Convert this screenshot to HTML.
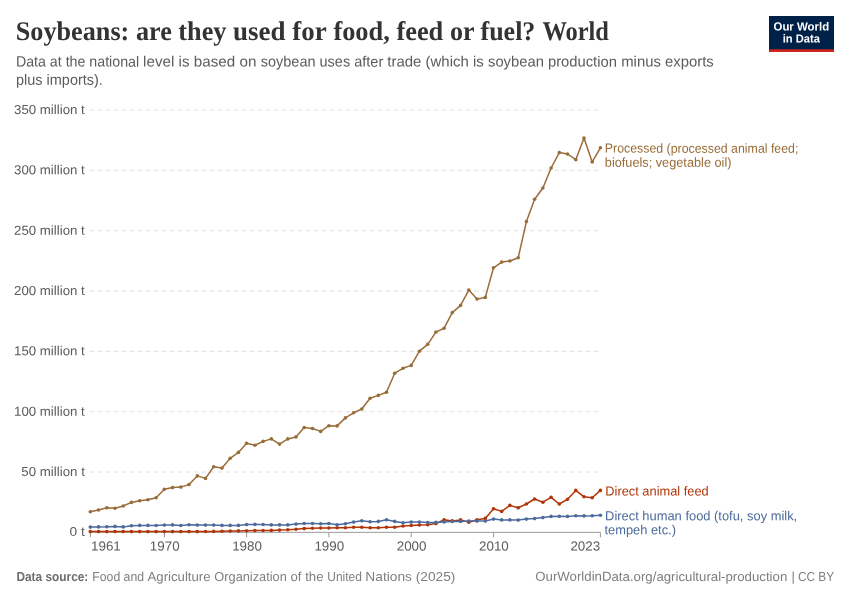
<!DOCTYPE html>
<html><head><meta charset="utf-8"><title>Soybeans: are they used for food, feed or fuel?</title>
<style>
html,body{margin:0;padding:0;background:#fff;}
body{width:850px;height:600px;position:relative;overflow:hidden;font-family:"Liberation Sans",sans-serif;}
svg{position:absolute;left:0;top:0;}
.title{font:bold 27px "Liberation Serif",serif;}.sub{font:15px "Liberation Sans",sans-serif;}.tick{font:13px "Liberation Sans",sans-serif;}.xtick{font:13.2px "Liberation Sans",sans-serif;}.foot{font:13px "Liberation Sans",sans-serif;}.footb{font:bold 13px "Liberation Sans",sans-serif;}.lbl{font:13px "Liberation Sans",sans-serif;}.logo{font:bold 11.8px "Liberation Sans",sans-serif;}
.title{fill:#333;}
.sub,.tick,.xtick{fill:#5b5b5b;}
.foot{fill:#7e7e7e;}
.footb{fill:#6e6e6e;}
.logo{fill:#fff;}
</style></head><body>
<svg width="850" height="600" viewBox="0 0 850 600">
<rect width="850" height="600" fill="#fff"/>
<text transform="matrix(0.9712 0.0005 0 1 15.70 39.94)" class="title">Soybeans: are they </text>
<text transform="matrix(0.9990 0.0005 0 1 233.00 39.97)" class="title">used for </text>
<text transform="matrix(0.9771 0.0005 0 1 333.40 39.97)" class="title">food, feed </text>
<text transform="matrix(0.9638 0.0005 0 1 449.90 39.98)" class="title">or fuel? </text>
<text transform="matrix(0.9060 0.0005 0 1 542.40 39.98)" class="title">World</text>

<text transform="matrix(0.9474 0.0005 0 1 15.90 66.57)" class="sub">Data at the national </text>
<text transform="matrix(1.0146 0.0005 0 1 143.10 66.57)" class="sub">level is based on </text>
<text transform="matrix(0.9671 0.0005 0 1 260.70 66.57)" class="sub">soybean uses after </text>
<text transform="matrix(0.9983 0.0005 0 1 387.30 66.57)" class="sub">trade (which is </text>
<text transform="matrix(0.9860 0.0005 0 1 488.00 66.57)" class="sub">soybean production </text>
<text transform="matrix(0.9918 0.0005 0 1 621.20 66.58)" class="sub">minus exports</text>

<text transform="matrix(0.9664 0.0005 0 1 15.90 84.68)" class="sub">plus imports).</text>

<g>
<rect x="769" y="16" width="65" height="36" fill="#002147"/>
<rect x="769" y="49.3" width="65" height="2.7" fill="#ce261e"/>
<text transform="matrix(0.9678 0.0005 0 1 773.50 30.59)" class="logo">Our World</text>

<text transform="matrix(0.9458 0.0005 0 1 782.70 42.49)" class="logo">in Data</text>

</g>
<text transform="matrix(1.0586 0.0005 0 1 69.60 536.33)" class="tick">0 t</text>
<line x1="90" x2="600.5" y1="472.0" y2="472.0" stroke="#e0e0e0" stroke-width="1" stroke-dasharray="4.5,3.5"/>
<text transform="matrix(1.0235 0.0005 0 1 21.30 475.98)" class="tick">50 million t</text>
<line x1="90" x2="600.5" y1="411.7" y2="411.7" stroke="#e0e0e0" stroke-width="1" stroke-dasharray="4.5,3.5"/>
<text transform="matrix(1.0221 0.0005 0 1 14.00 415.65)" class="tick">100 million t</text>
<line x1="90" x2="600.5" y1="351.3" y2="351.3" stroke="#e0e0e0" stroke-width="1" stroke-dasharray="4.5,3.5"/>
<text transform="matrix(1.0221 0.0005 0 1 14.00 355.31)" class="tick">150 million t</text>
<line x1="90" x2="600.5" y1="291.0" y2="291.0" stroke="#e0e0e0" stroke-width="1" stroke-dasharray="4.5,3.5"/>
<text transform="matrix(1.0221 0.0005 0 1 14.00 294.98)" class="tick">200 million t</text>
<line x1="90" x2="600.5" y1="230.7" y2="230.7" stroke="#e0e0e0" stroke-width="1" stroke-dasharray="4.5,3.5"/>
<text transform="matrix(1.0221 0.0005 0 1 14.00 234.65)" class="tick">250 million t</text>
<line x1="90" x2="600.5" y1="170.3" y2="170.3" stroke="#e0e0e0" stroke-width="1" stroke-dasharray="4.5,3.5"/>
<text transform="matrix(1.0221 0.0005 0 1 14.00 174.31)" class="tick">300 million t</text>
<line x1="90" x2="600.5" y1="110.0" y2="110.0" stroke="#e0e0e0" stroke-width="1" stroke-dasharray="4.5,3.5"/>
<text transform="matrix(1.0221 0.0005 0 1 14.00 113.98)" class="tick">350 million t</text>

<line x1="90" x2="600.5" y1="532.33" y2="532.33" stroke="#999" stroke-width="1"/>
<line x1="90.3" x2="90.3" y1="532.3" y2="537.3" stroke="#999" stroke-width="1"/>
<text transform="matrix(1.0158 0.0005 0 1 91.00 550.49)" class="xtick">1961</text>
<line x1="164.4" x2="164.4" y1="532.3" y2="537.3" stroke="#999" stroke-width="1"/>
<text transform="matrix(1.0158 0.0005 0 1 149.85 550.49)" class="xtick">1970</text>
<line x1="246.6" x2="246.6" y1="532.3" y2="537.3" stroke="#999" stroke-width="1"/>
<text transform="matrix(1.0158 0.0005 0 1 232.14 550.49)" class="xtick">1980</text>
<line x1="328.9" x2="328.9" y1="532.3" y2="537.3" stroke="#999" stroke-width="1"/>
<text transform="matrix(1.0158 0.0005 0 1 314.42 550.49)" class="xtick">1990</text>
<line x1="411.2" x2="411.2" y1="532.3" y2="537.3" stroke="#999" stroke-width="1"/>
<text transform="matrix(1.0158 0.0005 0 1 396.70 550.49)" class="xtick">2000</text>
<line x1="493.5" x2="493.5" y1="532.3" y2="537.3" stroke="#999" stroke-width="1"/>
<text transform="matrix(1.0158 0.0005 0 1 478.98 550.49)" class="xtick">2010</text>
<line x1="600.4" x2="600.4" y1="532.3" y2="537.3" stroke="#999" stroke-width="1"/>
<text transform="matrix(1.0158 0.0005 0 1 570.40 550.49)" class="xtick">2023</text>

<polyline points="90.3,511.7 98.5,510.0 106.8,507.7 115.0,508.3 123.2,506.0 131.4,502.4 139.7,500.7 147.9,499.8 156.1,497.7 164.4,489.2 172.6,487.6 180.8,487.1 189.0,484.6 197.3,475.9 205.5,478.4 213.7,466.8 222.0,468.1 230.2,458.3 238.4,452.4 246.6,443.3 254.9,445.2 263.1,441.4 271.3,438.9 279.5,444.1 287.8,438.9 296.0,436.9 304.2,427.6 312.5,428.5 320.7,431.4 328.9,425.7 337.1,425.9 345.4,417.9 353.6,412.8 361.8,409.0 370.1,398.2 378.3,395.4 386.5,392.3 394.7,373.2 403.0,368.3 411.2,365.4 419.4,351.2 427.7,344.3 435.9,332.1 444.1,328.2 452.3,312.6 460.6,305.4 468.8,290.1 477.0,299.0 485.3,297.4 493.5,267.8 501.7,262.1 509.9,261.0 518.2,257.8 526.4,221.6 534.6,199.3 542.9,188.0 551.1,168.0 559.3,152.6 567.5,154.0 575.8,159.7 584.0,138.1 592.2,161.9 600.4,147.8" fill="none" stroke="#996d39" stroke-width="1.5" stroke-linejoin="round" stroke-linecap="round"/>
<circle cx="90.3" cy="511.7" r="1.8" fill="#996d39"/><circle cx="98.5" cy="510.0" r="1.8" fill="#996d39"/><circle cx="106.8" cy="507.7" r="1.8" fill="#996d39"/><circle cx="115.0" cy="508.3" r="1.8" fill="#996d39"/><circle cx="123.2" cy="506.0" r="1.8" fill="#996d39"/><circle cx="131.4" cy="502.4" r="1.8" fill="#996d39"/><circle cx="139.7" cy="500.7" r="1.8" fill="#996d39"/><circle cx="147.9" cy="499.8" r="1.8" fill="#996d39"/><circle cx="156.1" cy="497.7" r="1.8" fill="#996d39"/><circle cx="164.4" cy="489.2" r="1.8" fill="#996d39"/><circle cx="172.6" cy="487.6" r="1.8" fill="#996d39"/><circle cx="180.8" cy="487.1" r="1.8" fill="#996d39"/><circle cx="189.0" cy="484.6" r="1.8" fill="#996d39"/><circle cx="197.3" cy="475.9" r="1.8" fill="#996d39"/><circle cx="205.5" cy="478.4" r="1.8" fill="#996d39"/><circle cx="213.7" cy="466.8" r="1.8" fill="#996d39"/><circle cx="222.0" cy="468.1" r="1.8" fill="#996d39"/><circle cx="230.2" cy="458.3" r="1.8" fill="#996d39"/><circle cx="238.4" cy="452.4" r="1.8" fill="#996d39"/><circle cx="246.6" cy="443.3" r="1.8" fill="#996d39"/><circle cx="254.9" cy="445.2" r="1.8" fill="#996d39"/><circle cx="263.1" cy="441.4" r="1.8" fill="#996d39"/><circle cx="271.3" cy="438.9" r="1.8" fill="#996d39"/><circle cx="279.5" cy="444.1" r="1.8" fill="#996d39"/><circle cx="287.8" cy="438.9" r="1.8" fill="#996d39"/><circle cx="296.0" cy="436.9" r="1.8" fill="#996d39"/><circle cx="304.2" cy="427.6" r="1.8" fill="#996d39"/><circle cx="312.5" cy="428.5" r="1.8" fill="#996d39"/><circle cx="320.7" cy="431.4" r="1.8" fill="#996d39"/><circle cx="328.9" cy="425.7" r="1.8" fill="#996d39"/><circle cx="337.1" cy="425.9" r="1.8" fill="#996d39"/><circle cx="345.4" cy="417.9" r="1.8" fill="#996d39"/><circle cx="353.6" cy="412.8" r="1.8" fill="#996d39"/><circle cx="361.8" cy="409.0" r="1.8" fill="#996d39"/><circle cx="370.1" cy="398.2" r="1.8" fill="#996d39"/><circle cx="378.3" cy="395.4" r="1.8" fill="#996d39"/><circle cx="386.5" cy="392.3" r="1.8" fill="#996d39"/><circle cx="394.7" cy="373.2" r="1.8" fill="#996d39"/><circle cx="403.0" cy="368.3" r="1.8" fill="#996d39"/><circle cx="411.2" cy="365.4" r="1.8" fill="#996d39"/><circle cx="419.4" cy="351.2" r="1.8" fill="#996d39"/><circle cx="427.7" cy="344.3" r="1.8" fill="#996d39"/><circle cx="435.9" cy="332.1" r="1.8" fill="#996d39"/><circle cx="444.1" cy="328.2" r="1.8" fill="#996d39"/><circle cx="452.3" cy="312.6" r="1.8" fill="#996d39"/><circle cx="460.6" cy="305.4" r="1.8" fill="#996d39"/><circle cx="468.8" cy="290.1" r="1.8" fill="#996d39"/><circle cx="477.0" cy="299.0" r="1.8" fill="#996d39"/><circle cx="485.3" cy="297.4" r="1.8" fill="#996d39"/><circle cx="493.5" cy="267.8" r="1.8" fill="#996d39"/><circle cx="501.7" cy="262.1" r="1.8" fill="#996d39"/><circle cx="509.9" cy="261.0" r="1.8" fill="#996d39"/><circle cx="518.2" cy="257.8" r="1.8" fill="#996d39"/><circle cx="526.4" cy="221.6" r="1.8" fill="#996d39"/><circle cx="534.6" cy="199.3" r="1.8" fill="#996d39"/><circle cx="542.9" cy="188.0" r="1.8" fill="#996d39"/><circle cx="551.1" cy="168.0" r="1.8" fill="#996d39"/><circle cx="559.3" cy="152.6" r="1.8" fill="#996d39"/><circle cx="567.5" cy="154.0" r="1.8" fill="#996d39"/><circle cx="575.8" cy="159.7" r="1.8" fill="#996d39"/><circle cx="584.0" cy="138.1" r="1.8" fill="#996d39"/><circle cx="592.2" cy="161.9" r="1.8" fill="#996d39"/><circle cx="600.4" cy="147.8" r="1.8" fill="#996d39"/>

<polyline points="90.3,531.6 98.5,531.6 106.8,531.6 115.0,531.6 123.2,531.6 131.4,531.6 139.7,531.6 147.9,531.6 156.1,531.6 164.4,531.6 172.6,531.6 180.8,531.6 189.0,531.6 197.3,531.6 205.5,531.5 213.7,531.4 222.0,531.2 230.2,531.0 238.4,530.9 246.6,530.8 254.9,530.6 263.1,530.5 271.3,530.4 279.5,530.1 287.8,529.8 296.0,529.3 304.2,528.6 312.5,528.2 320.7,528.0 328.9,528.0 337.1,527.8 345.4,527.8 353.6,527.2 361.8,527.2 370.1,527.8 378.3,527.8 386.5,527.2 394.7,527.3 403.0,526.0 411.2,525.5 419.4,525.0 427.7,524.7 435.9,523.6 444.1,519.8 452.3,520.9 460.6,519.9 468.8,522.3 477.0,519.8 485.3,518.4 493.5,508.7 501.7,511.4 509.9,505.4 518.2,507.7 526.4,504.0 534.6,499.0 542.9,502.2 551.1,497.3 559.3,504.0 567.5,499.3 575.8,490.4 584.0,496.8 592.2,497.8 600.4,490.4" fill="none" stroke="#b13507" stroke-width="1.5" stroke-linejoin="round" stroke-linecap="round"/>
<circle cx="90.3" cy="531.6" r="1.8" fill="#b13507"/><circle cx="98.5" cy="531.6" r="1.8" fill="#b13507"/><circle cx="106.8" cy="531.6" r="1.8" fill="#b13507"/><circle cx="115.0" cy="531.6" r="1.8" fill="#b13507"/><circle cx="123.2" cy="531.6" r="1.8" fill="#b13507"/><circle cx="131.4" cy="531.6" r="1.8" fill="#b13507"/><circle cx="139.7" cy="531.6" r="1.8" fill="#b13507"/><circle cx="147.9" cy="531.6" r="1.8" fill="#b13507"/><circle cx="156.1" cy="531.6" r="1.8" fill="#b13507"/><circle cx="164.4" cy="531.6" r="1.8" fill="#b13507"/><circle cx="172.6" cy="531.6" r="1.8" fill="#b13507"/><circle cx="180.8" cy="531.6" r="1.8" fill="#b13507"/><circle cx="189.0" cy="531.6" r="1.8" fill="#b13507"/><circle cx="197.3" cy="531.6" r="1.8" fill="#b13507"/><circle cx="205.5" cy="531.5" r="1.8" fill="#b13507"/><circle cx="213.7" cy="531.4" r="1.8" fill="#b13507"/><circle cx="222.0" cy="531.2" r="1.8" fill="#b13507"/><circle cx="230.2" cy="531.0" r="1.8" fill="#b13507"/><circle cx="238.4" cy="530.9" r="1.8" fill="#b13507"/><circle cx="246.6" cy="530.8" r="1.8" fill="#b13507"/><circle cx="254.9" cy="530.6" r="1.8" fill="#b13507"/><circle cx="263.1" cy="530.5" r="1.8" fill="#b13507"/><circle cx="271.3" cy="530.4" r="1.8" fill="#b13507"/><circle cx="279.5" cy="530.1" r="1.8" fill="#b13507"/><circle cx="287.8" cy="529.8" r="1.8" fill="#b13507"/><circle cx="296.0" cy="529.3" r="1.8" fill="#b13507"/><circle cx="304.2" cy="528.6" r="1.8" fill="#b13507"/><circle cx="312.5" cy="528.2" r="1.8" fill="#b13507"/><circle cx="320.7" cy="528.0" r="1.8" fill="#b13507"/><circle cx="328.9" cy="528.0" r="1.8" fill="#b13507"/><circle cx="337.1" cy="527.8" r="1.8" fill="#b13507"/><circle cx="345.4" cy="527.8" r="1.8" fill="#b13507"/><circle cx="353.6" cy="527.2" r="1.8" fill="#b13507"/><circle cx="361.8" cy="527.2" r="1.8" fill="#b13507"/><circle cx="370.1" cy="527.8" r="1.8" fill="#b13507"/><circle cx="378.3" cy="527.8" r="1.8" fill="#b13507"/><circle cx="386.5" cy="527.2" r="1.8" fill="#b13507"/><circle cx="394.7" cy="527.3" r="1.8" fill="#b13507"/><circle cx="403.0" cy="526.0" r="1.8" fill="#b13507"/><circle cx="411.2" cy="525.5" r="1.8" fill="#b13507"/><circle cx="419.4" cy="525.0" r="1.8" fill="#b13507"/><circle cx="427.7" cy="524.7" r="1.8" fill="#b13507"/><circle cx="435.9" cy="523.6" r="1.8" fill="#b13507"/><circle cx="444.1" cy="519.8" r="1.8" fill="#b13507"/><circle cx="452.3" cy="520.9" r="1.8" fill="#b13507"/><circle cx="460.6" cy="519.9" r="1.8" fill="#b13507"/><circle cx="468.8" cy="522.3" r="1.8" fill="#b13507"/><circle cx="477.0" cy="519.8" r="1.8" fill="#b13507"/><circle cx="485.3" cy="518.4" r="1.8" fill="#b13507"/><circle cx="493.5" cy="508.7" r="1.8" fill="#b13507"/><circle cx="501.7" cy="511.4" r="1.8" fill="#b13507"/><circle cx="509.9" cy="505.4" r="1.8" fill="#b13507"/><circle cx="518.2" cy="507.7" r="1.8" fill="#b13507"/><circle cx="526.4" cy="504.0" r="1.8" fill="#b13507"/><circle cx="534.6" cy="499.0" r="1.8" fill="#b13507"/><circle cx="542.9" cy="502.2" r="1.8" fill="#b13507"/><circle cx="551.1" cy="497.3" r="1.8" fill="#b13507"/><circle cx="559.3" cy="504.0" r="1.8" fill="#b13507"/><circle cx="567.5" cy="499.3" r="1.8" fill="#b13507"/><circle cx="575.8" cy="490.4" r="1.8" fill="#b13507"/><circle cx="584.0" cy="496.8" r="1.8" fill="#b13507"/><circle cx="592.2" cy="497.8" r="1.8" fill="#b13507"/><circle cx="600.4" cy="490.4" r="1.8" fill="#b13507"/>

<polyline points="90.3,527.1 98.5,526.9 106.8,526.8 115.0,526.4 123.2,526.9 131.4,525.8 139.7,525.4 147.9,525.4 156.1,525.5 164.4,525.1 172.6,524.9 180.8,525.5 189.0,524.8 197.3,525.1 205.5,525.1 213.7,525.1 222.0,525.4 230.2,525.4 238.4,525.4 246.6,524.6 254.9,524.4 263.1,524.5 271.3,524.9 279.5,524.9 287.8,524.9 296.0,524.1 304.2,523.5 312.5,523.5 320.7,523.8 328.9,523.5 337.1,524.8 345.4,523.8 353.6,522.1 361.8,520.8 370.1,521.8 378.3,521.4 386.5,519.8 394.7,521.4 403.0,522.8 411.2,522.1 419.4,522.1 427.7,522.6 435.9,522.4 444.1,521.9 452.3,521.4 460.6,521.4 468.8,521.1 477.0,521.1 485.3,521.1 493.5,519.1 501.7,519.9 509.9,519.9 518.2,520.1 526.4,519.1 534.6,518.6 542.9,517.6 551.1,516.4 559.3,516.2 567.5,516.4 575.8,515.8 584.0,515.9 592.2,515.8 600.4,515.2" fill="none" stroke="#4c6a9c" stroke-width="1.5" stroke-linejoin="round" stroke-linecap="round"/>
<circle cx="90.3" cy="527.1" r="1.8" fill="#4c6a9c"/><circle cx="98.5" cy="526.9" r="1.8" fill="#4c6a9c"/><circle cx="106.8" cy="526.8" r="1.8" fill="#4c6a9c"/><circle cx="115.0" cy="526.4" r="1.8" fill="#4c6a9c"/><circle cx="123.2" cy="526.9" r="1.8" fill="#4c6a9c"/><circle cx="131.4" cy="525.8" r="1.8" fill="#4c6a9c"/><circle cx="139.7" cy="525.4" r="1.8" fill="#4c6a9c"/><circle cx="147.9" cy="525.4" r="1.8" fill="#4c6a9c"/><circle cx="156.1" cy="525.5" r="1.8" fill="#4c6a9c"/><circle cx="164.4" cy="525.1" r="1.8" fill="#4c6a9c"/><circle cx="172.6" cy="524.9" r="1.8" fill="#4c6a9c"/><circle cx="180.8" cy="525.5" r="1.8" fill="#4c6a9c"/><circle cx="189.0" cy="524.8" r="1.8" fill="#4c6a9c"/><circle cx="197.3" cy="525.1" r="1.8" fill="#4c6a9c"/><circle cx="205.5" cy="525.1" r="1.8" fill="#4c6a9c"/><circle cx="213.7" cy="525.1" r="1.8" fill="#4c6a9c"/><circle cx="222.0" cy="525.4" r="1.8" fill="#4c6a9c"/><circle cx="230.2" cy="525.4" r="1.8" fill="#4c6a9c"/><circle cx="238.4" cy="525.4" r="1.8" fill="#4c6a9c"/><circle cx="246.6" cy="524.6" r="1.8" fill="#4c6a9c"/><circle cx="254.9" cy="524.4" r="1.8" fill="#4c6a9c"/><circle cx="263.1" cy="524.5" r="1.8" fill="#4c6a9c"/><circle cx="271.3" cy="524.9" r="1.8" fill="#4c6a9c"/><circle cx="279.5" cy="524.9" r="1.8" fill="#4c6a9c"/><circle cx="287.8" cy="524.9" r="1.8" fill="#4c6a9c"/><circle cx="296.0" cy="524.1" r="1.8" fill="#4c6a9c"/><circle cx="304.2" cy="523.5" r="1.8" fill="#4c6a9c"/><circle cx="312.5" cy="523.5" r="1.8" fill="#4c6a9c"/><circle cx="320.7" cy="523.8" r="1.8" fill="#4c6a9c"/><circle cx="328.9" cy="523.5" r="1.8" fill="#4c6a9c"/><circle cx="337.1" cy="524.8" r="1.8" fill="#4c6a9c"/><circle cx="345.4" cy="523.8" r="1.8" fill="#4c6a9c"/><circle cx="353.6" cy="522.1" r="1.8" fill="#4c6a9c"/><circle cx="361.8" cy="520.8" r="1.8" fill="#4c6a9c"/><circle cx="370.1" cy="521.8" r="1.8" fill="#4c6a9c"/><circle cx="378.3" cy="521.4" r="1.8" fill="#4c6a9c"/><circle cx="386.5" cy="519.8" r="1.8" fill="#4c6a9c"/><circle cx="394.7" cy="521.4" r="1.8" fill="#4c6a9c"/><circle cx="403.0" cy="522.8" r="1.8" fill="#4c6a9c"/><circle cx="411.2" cy="522.1" r="1.8" fill="#4c6a9c"/><circle cx="419.4" cy="522.1" r="1.8" fill="#4c6a9c"/><circle cx="427.7" cy="522.6" r="1.8" fill="#4c6a9c"/><circle cx="435.9" cy="522.4" r="1.8" fill="#4c6a9c"/><circle cx="444.1" cy="521.9" r="1.8" fill="#4c6a9c"/><circle cx="452.3" cy="521.4" r="1.8" fill="#4c6a9c"/><circle cx="460.6" cy="521.4" r="1.8" fill="#4c6a9c"/><circle cx="468.8" cy="521.1" r="1.8" fill="#4c6a9c"/><circle cx="477.0" cy="521.1" r="1.8" fill="#4c6a9c"/><circle cx="485.3" cy="521.1" r="1.8" fill="#4c6a9c"/><circle cx="493.5" cy="519.1" r="1.8" fill="#4c6a9c"/><circle cx="501.7" cy="519.9" r="1.8" fill="#4c6a9c"/><circle cx="509.9" cy="519.9" r="1.8" fill="#4c6a9c"/><circle cx="518.2" cy="520.1" r="1.8" fill="#4c6a9c"/><circle cx="526.4" cy="519.1" r="1.8" fill="#4c6a9c"/><circle cx="534.6" cy="518.6" r="1.8" fill="#4c6a9c"/><circle cx="542.9" cy="517.6" r="1.8" fill="#4c6a9c"/><circle cx="551.1" cy="516.4" r="1.8" fill="#4c6a9c"/><circle cx="559.3" cy="516.2" r="1.8" fill="#4c6a9c"/><circle cx="567.5" cy="516.4" r="1.8" fill="#4c6a9c"/><circle cx="575.8" cy="515.8" r="1.8" fill="#4c6a9c"/><circle cx="584.0" cy="515.9" r="1.8" fill="#4c6a9c"/><circle cx="592.2" cy="515.8" r="1.8" fill="#4c6a9c"/><circle cx="600.4" cy="515.2" r="1.8" fill="#4c6a9c"/>

<text transform="matrix(0.9511 0.0005 0 1 604.80 152.60)" class="lbl" fill="#996d39">Processed (processed animal feed;</text>

<text transform="matrix(0.9802 0.0005 0 1 604.80 166.72)" class="lbl" fill="#996d39">biofuels; vegetable oil)</text>

<text transform="matrix(0.9879 0.0005 0 1 605.30 495.57)" class="lbl" fill="#b13507">Direct animal feed</text>

<text transform="matrix(0.9937 0.0005 0 1 605.10 520.25)" class="lbl" fill="#4c6a9c">Direct human food (tofu, soy milk,</text>

<text transform="matrix(0.9895 0.0005 0 1 604.50 534.28)" class="lbl" fill="#4c6a9c">tempeh etc.)</text>

<text transform="matrix(0.9143 0.0005 0 1 16.40 580.88)" class="footb">Data source:</text>

<text transform="matrix(0.9429 0.0005 0 1 92.30 580.89)" class="foot">Food and </text>
<text transform="matrix(1.0160 0.0005 0 1 147.50 580.88)" class="foot">Agriculture </text>
<text transform="matrix(0.9855 0.0005 0 1 214.30 580.88)" class="foot">Organization </text>
<text transform="matrix(1.0156 0.0005 0 1 290.50 580.89)" class="foot">of the </text>
<text transform="matrix(0.9250 0.0005 0 1 327.20 580.89)" class="foot">United </text>
<text transform="matrix(1.0589 0.0005 0 1 365.30 580.89)" class="foot">Nations </text>
<text transform="matrix(1.0511 0.0005 0 1 415.80 580.89)" class="foot">(2025)</text>

<text transform="matrix(1.0186 0.0005 0 1 535.30 580.84)" class="foot">OurWorldinData.org/agricultural-production</text>

<text transform="matrix(1.0000 0.0005 0 1 791.60 580.90)" class="foot">|</text>

<text transform="matrix(0.9137 0.0005 0 1 797.90 580.89)" class="foot">CC BY</text>

</svg>
</body></html>
